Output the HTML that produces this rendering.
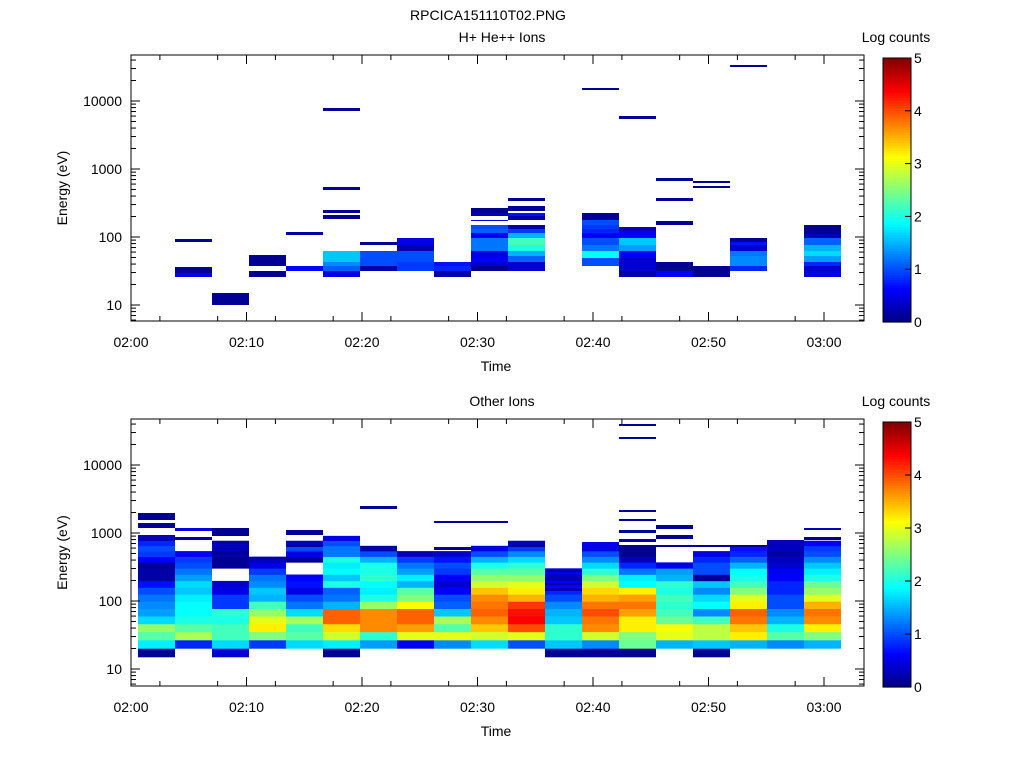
<!DOCTYPE html>
<html><head><meta charset="utf-8"><style>
body{margin:0;background:#fff;}
svg text{font-family:"Liberation Sans",sans-serif;font-size:14px;fill:#000;}
</style></head><body>
<svg id="s" width="1024" height="768" xmlns="http://www.w3.org/2000/svg"></svg>
<script>
(function(){
const S=document.getElementById('s');let h='';
function jet(v){let t=Math.max(0,Math.min(1,v/5));const c=x=>Math.round(255*Math.max(0,Math.min(1,1.5-Math.abs(4*t-x))));return `rgb(${c(3)},${c(2)},${c(1)})`;}
function rect(x,y,w,hh,f){h+=`<rect x="${x}" y="${y}" width="${w}" height="${hh}" fill="${f}"/>`;}
function txt(x,y,s,a,extra){h+=`<text x="${x}" y="${y}" text-anchor="${a||'middle'}" ${extra||''}>${s}</text>`;}
const X0=138,CW=37;
const topBins=[
[1,239,242,0.1],[1,267,273,0.1],[1,273,277,0.5],
[2,293,305,0.1],
[3,255,266,0.1],[3,271,277,0.1],
[4,232,235,0.2],[4,266,271,0.6],
[5,108,111,0.1],[5,187,190,0.1],[5,210,213,0.1],[5,215,219,0.1],[5,251,262,1.6],[5,262,266,1.3],[5,266,271,1.1],[5,271,277,0.5],
[6,242,245,0.1],[6,251,262,1.0],[6,262,266,1.0],[6,266,271,0.2],
[7,238,245,0.5],[7,245,251,0.2],[7,251,258,1.0],[7,258,262,1.0],[7,262,271,0.9],
[8,262,266,0.7],[8,266,271,0.8],[8,271,277,0.2],
[9,208,213,0.1],[9,213,216,0.3],[9,220,221,0.5],[9,225,229,1.0],[9,229,233,1.1],[9,233,238,0.6],[9,238,245,1.2],[9,245,251,1.2],[9,251,258,0.5],[9,258,262,0.6],[9,262,266,0.4],[9,266,271,0.1],
[10,198,201,0.1],[10,206,211,0.1],[10,213,216,0.7],[10,216,220,0.2],[10,225,229,0.2],[10,229,233,0.9],[10,233,238,1.5],[10,238,245,2.2],[10,245,251,2.0],[10,251,256,1.5],[10,256,262,1.1],[10,262,271,0.4],
[12,88,90,0.1],[12,213,220,0.1],[12,220,225,1.0],[12,225,229,0.9],[12,229,233,0.8],[12,233,238,0.6],[12,238,245,1.0],[12,245,251,1.2],[12,251,258,1.9],[12,258,266,1.0],
[13,116,119,0.1],[13,227,231,0.3],[13,231,238,0.6],[13,238,245,1.6],[13,245,251,1.4],[13,251,258,0.6],[13,258,266,0.4],[13,266,271,0.4],[13,271,277,0.2],
[14,178,181,0.1],[14,198,201,0.1],[14,221,225,0.1],[14,262,271,0.1],[14,271,277,0.6],
[15,181,183,0.1],[15,186,188,0.1],[15,266,277,0.1],
[16,65,67,0.1],[16,238,242,0.1],[16,242,245,0.7],[16,245,251,0.4],[16,251,256,1.2],[16,256,266,1.3],[16,266,271,0.8],
[18,225,234,0.1],[18,234,238,0.3],[18,238,245,1.1],[18,245,251,1.5],[18,251,256,1.7],[18,256,262,1.4],[18,262,266,0.8],[18,266,271,0.4],[18,271,277,0.5]];
topBins.forEach(b=>rect(X0+CW*b[0],b[1],CW,b[2]-b[1],jet(b[3])));
const N=null;
const bot=[
[0.1,1.8,2.3,2.6,1.7,1.4,1.3,1.2,1.0,0.7,0.2,0.2,0.1,0.6,0.9,1.0,0.8,0.3],
[N,0.8,2.7,2.3,2.0,1.9,1.9,1.8,1.6,1.7,1.4,1.2,1.0,0.9,0.6],
[0.4,1.7,2.2,2.2,2.0,2.1,0.9,0.9,0.5,0.4,N,N,0.1,0.1,0.2,0.3,0.2],
[N,0.9,2.5,3.2,3.0,2.6,2.2,1.5,1.6,1.3,1.2,0.9,0.5,0.3],
[N,1.7,2.3,2.2,2.7,1.7,1.2,1.0,0.5,0.7,0.6,N,N,0.1,0.5,1.0,0.3],
[0.1,1.8,2.9,3.3,3.9,3.9,1.5,1.2,1.1,2.0,1.6,1.9,1.8,2.0,1.2,1.2,1.0,0.5],
[N,1.4,2.1,3.7,3.7,3.7,2.6,2.0,1.8,1.9,2.1,2.0,2.0,1.5,1.0,0.2],
[N,0.6,3.0,3.6,3.9,3.9,3.1,2.5,2.3,1.5,1.8,1.4,1.2,0.9,0.3],
[N,1.3,3.0,2.3,2.7,1.6,1.1,1.0,0.6,0.4,0.6,0.9,1.0,0.7,0.4],
[N,1.7,2.9,3.4,3.7,3.9,3.8,3.7,3.4,2.9,2.6,2.3,2.0,1.5,1.0,0.5],
[N,1.0,3.0,4.0,4.4,4.3,4.1,3.5,3.2,3.0,2.6,2.3,2.1,1.7,1.3,0.9,0.3],
[0.1,1.6,2.1,2.1,1.6,1.5,1.3,1.0,0.8,0.6,0.3,0.5],
[0.1,1.3,2.9,3.7,3.8,4.0,3.8,3.5,3.3,2.9,2.5,2.1,1.7,1.3,1.0,0.5],
[0.1,2.4,2.5,3.2,3.2,3.6,3.8,3.6,3.2,1.9,1.8,1.2,0.8,0.3,0.1,0.1],
[N,1.5,3.0,3.1,2.4,2.2,2.1,2.2,2.0,2.1,1.5,1.4,0.5],
[0.1,1.6,2.8,2.8,2.2,1.3,1.9,1.7,1.3,1.6,0.1,1.0,1.0,0.8,0.5],
[N,1.5,3.2,3.4,3.8,3.9,3.2,3.0,2.5,2.2,2.0,1.9,1.5,1.1,0.8,0.7],
[N,1.3,2.3,2.0,1.5,1.3,1.0,1.0,0.8,0.8,0.6,0.6,0.4,0.3,0.2,0.1],
[N,1.5,2.5,3.2,3.7,3.8,3.5,3.0,2.6,2.4,2.0,1.8,1.6,1.3,1.0,0.9,0.6]];
const yb=[657];for(let j=0;j<20;j++)yb.push(yb[j]-(8.6-0.22*j));
bot.forEach((col,k)=>col.forEach((v,i)=>{if(v!==null)rect(X0+CW*k,yb[i+1],CW,yb[i]-yb[i+1]+0.3,jet(v));}));
const lines=[[0,513,7,0.1],[0,523,5,0.1],[0,535,3,0.3],[1,528,3,0.5],[1,537,3,0.2],[2,528,8,0.1],[2,544,2,0.3],[2,551,3,0.1],[3,557,2,0.2],[4,530,5,0.1],[4,545,2,0.1],
[8,548,2,0.1],[9,521,2,0.1],[11,570,2,0.2],[11,583,2,0.2],[11,588,3,0.3],[13,424,2,0.1],[13,437,2,0.1],[13,510,2,0.1],[13,519,2,0.1],[13,530,3,0.1],[13,539,3,0.2],[13,545,4,0.1],
[14,525,4,0.1],[14,535,4,0.1],[14,545,2,0.1],[8,547,2,0.1],[10,545,2,0.1],[15,545,2,0.1],[16,545,2,0.1],[17,540,12,0.3],[18,528,2,0.3],[18,537,3,0.1],[6,506,3,0.1],[8,521,2,0.1],[12,542,5,0.5]];
lines.forEach(b=>rect(X0+CW*b[0],b[1],CW,b[2],jet(b[3])));
function axes(y0,y1,y10,title){
 h+=`<rect x="131" y="${y0}" width="733" height="${y1-y0}" fill="none" stroke="#000" stroke-width="1"/>`;
 for(let d=0;d<4;d++){for(let m=1;m<10;m++){const y=y10-68*(d+Math.log10(m));if(y<y0||y>y1)continue;const L=m==1?9:5;
  h+=`<line x1="131" x2="${131+L}" y1="${y}" y2="${y}" stroke="#000"/><line x1="${864-L}" x2="864" y1="${y}" y2="${y}" stroke="#000"/>`;}}
 for(let m=2;m<10;m++){const y=y10+68*(1-Math.log10(m));if(y<=y1)h+=`<line x1="131" x2="136" y1="${y}" y2="${y}" stroke="#000"/><line x1="859" x2="864" y1="${y}" y2="${y}" stroke="#000"/>`;}
 for(let d=0;d<4;d++){txt(122,y10-68*d+5,['10','100','1000','10000'][d],'end');}
 const lab=['02:00','02:10','02:20','02:30','02:40','02:50','03:00'];
 for(let k=0;k<=6;k++){const x=131+115.5*k;h+=`<line x1="${x}" x2="${x}" y1="${y1}" y2="${y1-9}" stroke="#000"/><line x1="${x}" x2="${x}" y1="${y0}" y2="${y0+9}" stroke="#000"/>`;txt(x,y1+26,lab[k]);}
 for(let k=0;k<12;k++){const x=131+57.75*k+28.9;h+=`<line x1="${x}" x2="${x}" y1="${y1}" y2="${y1-5}" stroke="#000"/><line x1="${x}" x2="${x}" y1="${y0}" y2="${y0+5}" stroke="#000"/>`;}
 txt(496,y1+50,'Time');
 h+=`<text x="67" y="${(y0+y1)/2}" text-anchor="middle" transform="rotate(-90 67 ${(y0+y1)/2})">Energy (eV)</text>`;
 txt(502,y0-13,title);
 const cy0=y0+3,cy1=y1+1;
 for(let i=0;i<100;i++){const yy=cy1-(cy1-cy0)*(i+1)/100;rect(883,yy,28,(cy1-cy0)/100+0.6,jet(i/20+0.025));}
 h+=`<rect x="883" y="${cy0}" width="28" height="${cy1-cy0}" fill="none" stroke="#000"/>`;
 for(let v=0;v<=5;v++){const yy=cy1-(cy1-cy0)*v/5;h+=`<line x1="905" x2="911" y1="${yy}" y2="${yy}" stroke="#000"/>`;txt(914,yy+5,v,'start');}
 txt(896,y0-13,'Log counts');
}
axes(55,321,305,'H+ He++ Ions');
axes(419,686,669,'Other Ions');
txt(488,20,'RPCICA151110T02.PNG');
S.innerHTML=h;
})();
</script>
</body></html>
